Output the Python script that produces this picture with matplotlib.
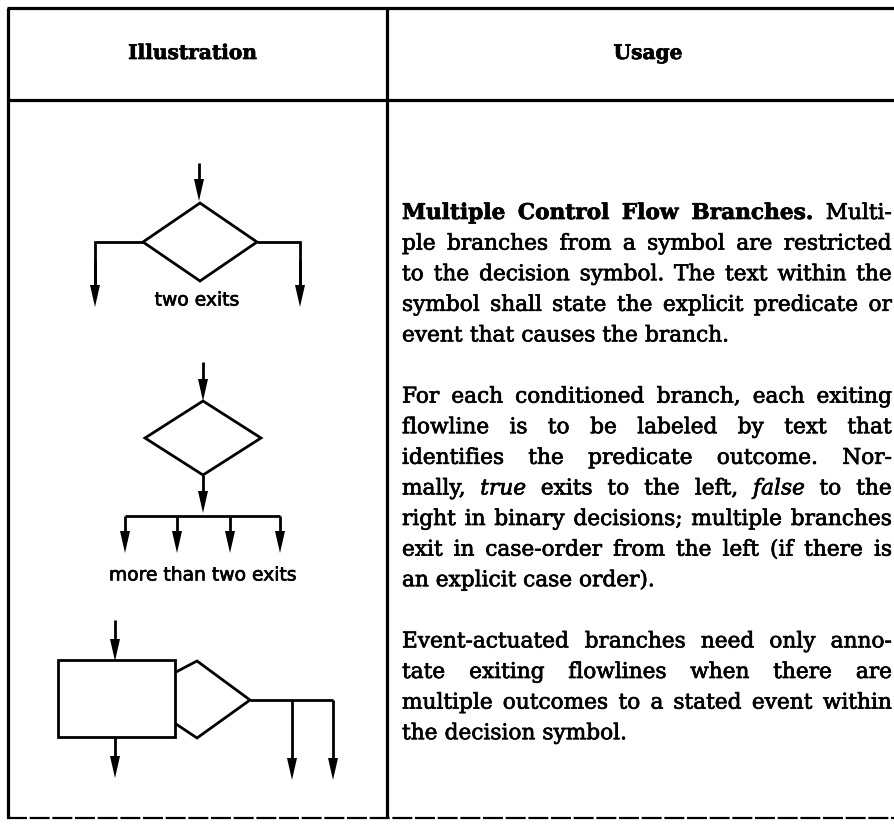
import matplotlib
matplotlib.use("Agg")
import matplotlib.pyplot as plt
import matplotlib.patheffects as pe
from matplotlib.patches import Polygon, Rectangle

# ---- content ----
HEADERS = ["Illustration", "Usage"]
LABELS = ["two exits", "more than two exits"]

# each line = list of (style, text); style r=regular, b=bold, i=italic
PARA_1 = [
    [("b", "Multiple Control Flow Branches."), ("r", "Multi-")],
    [("r", "ple branches from a symbol are restricted")],
    [("r", "to the decision symbol. The text within the")],
    [("r", "symbol shall state the explicit predicate or")],
    [("r", "event that causes the branch.")],
]
PARA_2 = [
    [("r", "For each conditioned branch, each exiting")],
    [("r", "flowline is to be labeled by text that")],
    [("r", "identifies the predicate outcome. Nor-")],
    [("r", "mally,"), ("i", "true"), ("r", "exits to the left,"), ("i", "false"), ("r", "to the")],
    [("r", "right in binary decisions; multiple branches")],
    [("r", "exit in case-order from the left (if there is")],
    [("r", "an explicit case order).")],
]
PARA_3 = [
    [("r", "Event-actuated branches need only anno-")],
    [("r", "tate exiting flowlines when there are")],
    [("r", "multiple outcomes to a stated event within")],
    [("r", "the decision symbol.")],
]
PARAGRAPHS = [PARA_1, PARA_2, PARA_3]

# ---- page geometry (pixels, y down) ----
W, H = 895, 826
X_LEFT, X_DIV, X_RIGHT = 8, 387, 895
Y_TOP, Y_HEAD, Y_BOT = 8, 100, 818
TEXT_X0, TEXT_X1 = 402, 892
BASE_Y0, LEAD = 219, 30.6
SERIF = "DejaVu Serif"
SANS = "DejaVu Sans"
INK = [pe.withStroke(linewidth=0.5, foreground="black")]  # heavier "printed" look

fig = plt.figure(figsize=(W / 100, H / 100), dpi=100)
ax = fig.add_axes([0, 0, 1, 1])
ax.set_xlim(0, W)
ax.set_ylim(H, 0)
ax.axis("off")
renderer = fig.canvas.get_renderer()

BORDER = dict(color="black", lw=2.3, solid_capstyle="butt")
ax.plot([X_LEFT - 1, X_RIGHT], [Y_TOP, Y_TOP], **BORDER)
ax.plot([X_LEFT - 1, X_RIGHT], [Y_HEAD, Y_HEAD], **BORDER)
ax.plot([X_LEFT, X_LEFT], [Y_TOP, Y_BOT], **BORDER)
ax.plot([X_DIV, X_DIV], [Y_TOP, Y_BOT], **BORDER)
ax.plot([X_LEFT - 1, X_RIGHT], [Y_BOT, Y_BOT], color="black", lw=1.6,
        dashes=(9, 1.2))


def style_kw(st, size):
    kw = dict(family=SERIF, fontsize=size, color="black")
    if st == "b":
        kw["weight"] = "bold"
    if st == "i":
        kw["style"] = "italic"
    return kw


def text_w(s, **kw):
    t = ax.text(0, 0, s, **kw)
    w = t.get_window_extent(renderer).width
    t.remove()
    return w


def fit_size(s, target, base=14.0, **kw):
    return base * target / text_w(s, fontsize=base, **kw)


# ---- headers ----
hsize = fit_size(HEADERS[0], 129, family=SERIF, weight="bold")
ax.text((X_LEFT + X_DIV) / 2 - 5, 53, HEADERS[0], family=SERIF, weight="bold",
        fontsize=hsize, ha="center", va="center", path_effects=INK)
ax.text(648, 53, HEADERS[1], family=SERIF, weight="bold",
        fontsize=hsize, ha="center", va="center", path_effects=INK)


# ---- justified body text ----
def line_words(line):
    return [(st, w) for st, seg in line for w in seg.split()]


def natural_width(line, size):
    words = line_words(line)
    sp = text_w("n n", **style_kw("r", size)) - text_w("nn", **style_kw("r", size))
    return sum(text_w(w, **style_kw(st, size)) for st, w in words) + sp * (len(words) - 1)


full_lines = [ln for p in PARAGRAPHS for ln in p[:-1]]
widest = max(natural_width(ln, 14.0) for ln in full_lines)
bsize = 14.0 * (TEXT_X1 - TEXT_X0) * 0.985 / widest
space = text_w("n n", **style_kw("r", bsize)) - text_w("nn", **style_kw("r", bsize))

y = BASE_Y0
for para in PARAGRAPHS:
    for k, line in enumerate(para):
        words = line_words(line)
        widths = [text_w(w, **style_kw(st, bsize)) for st, w in words]
        last = k == len(para) - 1
        gap = space if last else (TEXT_X1 - TEXT_X0 - sum(widths)) / (len(words) - 1)
        x = TEXT_X0
        for (st, w), wd in zip(words, widths):
            ax.text(x, y, w, va="baseline", ha="left", path_effects=INK,
                    **style_kw(st, bsize))
            x += wd + gap
        y += LEAD
    y += LEAD


# ---- flowchart pieces ----
LW = 2.0


def line(xs, ys):
    ax.plot(xs, ys, color="black", lw=LW, solid_capstyle="butt",
            solid_joinstyle="miter")


def arrow_down(x, y0, y1, head=22, half=5):
    line([x, x], [y0, y1 - head + 2])
    ax.add_patch(Polygon([(x - half, y1 - head), (x + half, y1 - head), (x, y1)],
                         closed=True, color="black", lw=0))


def diamond(cx, cy, hw, hh):
    ax.add_patch(Polygon([(cx, cy - hh), (cx + hw, cy), (cx, cy + hh), (cx - hw, cy)],
                         closed=True, fill=False, ec="black", lw=LW, joinstyle="miter"))


# diagram 1: two exits
arrow_down(199, 163, 201)
diamond(200, 242, 57, 39)
line([143, 95, 95], [242, 242, 285])
line([257, 300, 300], [242, 242, 285])
arrow_down(95, 260, 307)
arrow_down(300, 260, 307)
lsize = fit_size(LABELS[0], 85, family=SANS)
ax.text(197, 300, LABELS[0], family=SANS, fontsize=lsize, ha="center", va="center",
        path_effects=INK)

# diagram 2: more than two exits
arrow_down(203, 362, 401)
diamond(203, 438, 58, 37)
arrow_down(203, 475, 513)
line([125, 280], [516, 516])
for bx in [125, 177, 230, 280]:
    arrow_down(bx, 516, 553)
ax.text(203, 575, LABELS[1], family=SANS, fontsize=lsize, ha="center", va="center",
        path_effects=INK)

# diagram 3: process box with attached decision
arrow_down(115, 620, 661)
ax.add_patch(Rectangle((58, 660), 117, 77, fill=False, ec="black", lw=LW))
arrow_down(115, 737, 778)
line([176, 197, 250, 197, 176], [672, 661, 700, 738, 724])
line([250, 333], [700, 700])
arrow_down(292, 700, 780)
arrow_down(333, 700, 780)

fig.savefig("out.png", dpi=100, facecolor="white")
